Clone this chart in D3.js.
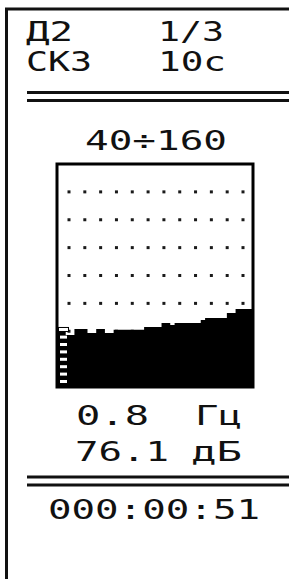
<!DOCTYPE html>
<html>
<head>
<meta charset="utf-8">
<script src="https://d3js.org/d3.v7.min.js"></script>
<style>
  body { margin: 0; background: #fff; }
  text { font-family: "DejaVu Sans Mono", "Liberation Mono", monospace; fill: #111; }
</style>
</head>
<body>
<div id="screen"></div>
<script>
var svgWidth = 289;
var svgHeight = 579;

// 1/3 octave bands (Hz) and measured levels (dB)
var bands = ["0.8", "1", "1.25", "1.6", "2", "2.5", "3.15", "4", "5", "6.3", "8", "10",
  "12.5", "16", "20", "25", "31.5", "40", "50", "63", "80", "100", "125", "160", "200",
  "250", "315", "400", "500", "630", "800", "1k", "1.25k", "1.6k", "2k", "2.5k", "3.15k",
  "4k", "5k", "6.3k", "8k", "10k", "12.5k", "16k", "20k"];
var levels = [72.3, 72.3, 68.0, 68.0, 71.2, 71.2, 71.2, 69.1, 69.1, 71.2, 71.2, 69.1,
  69.1, 70.8, 70.8, 70.8, 70.8, 70.8, 70.8, 70.8, 72.3, 72.3, 72.3, 72.3, 74.4,
  74.4, 73.4, 74.4, 74.4, 74.4, 74.4, 74.4, 74.4, 76.1, 77.1, 77.1, 77.1,
  77.1, 77.1, 79.8, 79.8, 82.0, 82.0, 82.0, 82.0];
var yRange = [40, 160];
var gridLevels = [145, 130, 115, 100, 85, 70, 55];
var gridCols = d3.range(12);
var cursorBand = "0.8";

// screen texts
var headerRow1 = ["Д2", "1/3"];
var headerRow2 = ["СКЗ", "10с"];
var rangeLabel = "40÷160";
var freqReadout = ["0.8", "Гц"];
var levelReadout = ["76.1", "дБ"];
var timerLabel = "000:00:51";

var plot = { left: 57, right: 253, top: 164, bottom: 387 };

var svg = d3.select("#screen")
  .append("svg")
  .attr("width", svgWidth)
  .attr("height", svgHeight);

svg.append("rect")
  .attr("width", svgWidth)
  .attr("height", svgHeight)
  .attr("fill", "#fff");

// frame (left + top only)
svg.append("path")
  .attr("d", `M6.5,${svgHeight} V9 H${svgWidth}`)
  .attr("fill", "none")
  .attr("stroke", "#111")
  .attr("stroke-width", 3);

// double rules
function doubleRule(y1, y2) {
  [y1, y2].forEach(function(y) {
    svg.append("line")
      .attr("x1", 27).attr("x2", svgWidth)
      .attr("y1", y).attr("y2", y)
      .attr("stroke", "#111")
      .attr("stroke-width", 3);
  });
}
doubleRule(92.5, 100.5);
doubleRule(477, 485);

// texts
function label(str, x, y, w) {
  svg.append("text")
    .attr("x", x)
    .attr("y", y)
    .attr("textLength", w)
    .attr("lengthAdjust", "spacingAndGlyphs")
    .style("font-size", "26px")
    .text(str);
}
label(headerRow1[0], 26, 41, 47);
label(headerRow1[1], 158, 41, 66);
label(headerRow2[0], 26, 71, 66);
label(headerRow2[1], 158, 71, 68);
label(rangeLabel, 85, 150, 142);
label(freqReadout[0], 76, 425, 73);
label(freqReadout[1], 195, 425, 47);
label(levelReadout[0], 75, 461, 94);
label(levelReadout[1], 191, 461, 51);
label(timerLabel, 48, 519, 212);

// scales
var xScale = d3.scaleBand()
  .domain(bands)
  .range([plot.left, plot.right])
  .padding(0);

var yScale = d3.scaleLinear()
  .domain(yRange)
  .range([plot.bottom, plot.top]);

var colScale = d3.scaleLinear()
  .domain([0, gridCols.length - 1])
  .range([69, 243]);

var chart = svg.append("g");

// dotted grid
gridLevels.forEach(function(lv) {
  chart.selectAll(null)
    .data(gridCols)
    .enter()
    .append("rect")
    .attr("x", d => colScale(d) - 1.5)
    .attr("y", yScale(lv) - 1.5)
    .attr("width", 3)
    .attr("height", 3)
    .attr("fill", "#1a1a1a");
});

// spectrum as one stepped area (no seams between bands)
var stepData = bands.map((b, i) => ({ x: xScale(b), v: levels[i] }));
stepData.push({ x: plot.right, v: levels[levels.length - 1] });

var area = d3.area()
  .x(d => d.x)
  .y0(plot.bottom)
  .y1(d => yScale(d.v))
  .curve(d3.curveStepAfter);

chart.append("path")
  .datum(stepData)
  .attr("d", area)
  .attr("fill", "#000");

// cursor on selected band: white dashes
var cx = xScale(cursorBand) + 3;
var cTop = yScale(levels[bands.indexOf(cursorBand)]);
chart.append("rect")
  .attr("x", cx - 1.5)
  .attr("y", cTop + 0.5)
  .attr("width", 10)
  .attr("height", 4)
  .attr("fill", "#fff")
  .attr("stroke", "#000")
  .attr("stroke-width", 1);
chart.selectAll(".dash")
  .data(d3.range(7))
  .enter()
  .append("rect")
  .attr("class", "dash")
  .attr("x", cx)
  .attr("y", d => plot.bottom - 7 - d * 7.4)
  .attr("width", 7)
  .attr("height", 3)
  .attr("fill", "#fff");

// plot border
svg.append("rect")
  .attr("x", plot.left)
  .attr("y", plot.top)
  .attr("width", plot.right - plot.left)
  .attr("height", plot.bottom - plot.top)
  .attr("fill", "none")
  .attr("stroke", "#000")
  .attr("stroke-width", 3);
</script>
</body>
</html>
